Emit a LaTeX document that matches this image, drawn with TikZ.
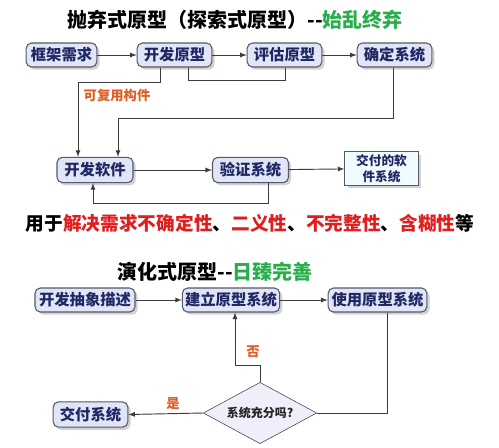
\documentclass[tikz,border=0pt]{standalone}
\usepackage{fontspec}
\setmainfont{Noto Sans CJK SC}
\usetikzlibrary{shapes, arrows, shadows}

\definecolor{boxfill}{RGB}{226,229,246}
\definecolor{boxline}{RGB}{85,88,105}
\definecolor{boxtext}{RGB}{30,40,100}
\definecolor{linegray}{RGB}{60,60,60}
\definecolor{labelorange}{RGB}{222,96,40}
\definecolor{titlegreen}{RGB}{40,175,75}
\definecolor{notered}{RGB}{225,30,30}

\tikzset{
  box/.style={draw=boxline, fill=boxfill, rounded corners=4pt, line width=0.8pt,
    text=boxtext, inner sep=2pt, minimum height=18pt,
    drop shadow={shadow xshift=2pt, shadow yshift=-2pt, opacity=0.35},
    font=\bfseries\fontsize{11.5}{13}\selectfont},
  flat/.style={draw=boxline, fill=boxfill!80!cyan!20, line width=0.8pt,
    text=boxtext, align=center, inner sep=2pt,
    drop shadow={shadow xshift=2pt, shadow yshift=-2pt, opacity=0.35},
    font=\bfseries\fontsize{9.5}{11.5}\selectfont},
  check/.style={draw=linegray, fill=boxfill!60, diamond, aspect=1.8, inner sep=1pt,
    minimum width=85pt, minimum height=46pt, text=black!85,
    font=\bfseries\fontsize{9}{11}\selectfont},
  link/.style={draw=linegray, line width=0.7pt},
  arr/.style={link, -latex},
  lbl/.style={text=labelorange, font=\bfseries\fontsize{10}{12}\selectfont},
  title/.style={font=\bfseries\fontsize{15}{18}\selectfont}
}

\begin{document}
\begin{tikzpicture}[x=0.75pt, y=-0.75pt]
\useasboundingbox (0,0) rectangle (499,447);
\fill[white] (0,0) rectangle (499,447);

% throw-away prototype
\node[title] (title1) at (235,20) {抛弃式原型（探索式原型）{-}{-}\textcolor{titlegreen}{始乱终弃}};

\node[box, minimum width=53pt] (req) at (61.5,55) {框架需求};
\node[box, minimum width=56pt] (proto) at (174.5,55) {开发原型};
\node[box, minimum width=56pt] (eval) at (284.5,55) {评估原型};
\node[box, minimum width=56pt] (fixsys) at (394.5,55) {确定系统};

\draw[arr] (req) -- (proto);
\draw[arr] (proto) -- (eval);
\draw[arr] (eval) -- (fixsys);
\draw[link] (proto.south -| 188,0) |- (285,80) -- (eval.south -| 285,0);

\node[box, minimum width=57pt, minimum height=19pt] (dev) at (95,170) {开发软件};
\node[box, minimum width=57pt, minimum height=19pt] (verify) at (250.5,170) {验证系统};
\node[flat, minimum width=55pt, minimum height=25pt] (deliver) at (381.5,168.5) {交付的软\\件系统};

\draw[arr] (proto.south -| 160,0) |- (78,82) -- (dev.north -| 78,0);
\node[lbl] (reuse) at (117,95) {可复用构件};
\draw[arr] (fixsys.south -| 393,0) |- (118,118) -- (dev.north -| 118,0);

\draw[arr] (dev) -- (verify);
\draw[arr] (verify) -- (deliver);
\draw[arr] (verify.south -| 268,0) |- (93,203) -- (dev.south -| 93,0);

\node[font=\bfseries\fontsize{14}{17}\selectfont] (note) at (250,223)
  {用于\textcolor{notered}{解决需求不确定性}、\textcolor{notered}{二义性}、\textcolor{notered}{不完整性}、\textcolor{notered}{含糊性}等};

% evolutionary prototype
\node[title] (title2) at (215,272) {演化式原型{-}{-}\textcolor{titlegreen}{日臻完善}};

\node[box, minimum width=75pt] (abstr) at (85,300) {开发抽象描述};
\node[box, minimum width=73pt] (build) at (231,300) {建立原型系统};
\node[box, minimum width=74pt] (use) at (377.5,300) {使用原型系统};

\draw[arr] (abstr) -- (build);
\draw[arr] (build) -- (use);

\node[check] (enough) at (260,413) {系统充分吗?};
\node[box, minimum width=56pt, minimum height=19pt] (ship) at (90.5,414.5) {交付系统};

\draw[link] (use.south -| 387,0) |- (enough.east);
\draw[arr] (enough.north) |- (235,365) -- (build.south -| 235,0);
\node[lbl] (no) at (253,352) {否};
\draw[arr] (enough.west) -- (ship.east);
\node[lbl] (yes) at (173,404) {是};
\end{tikzpicture}
\end{document}
